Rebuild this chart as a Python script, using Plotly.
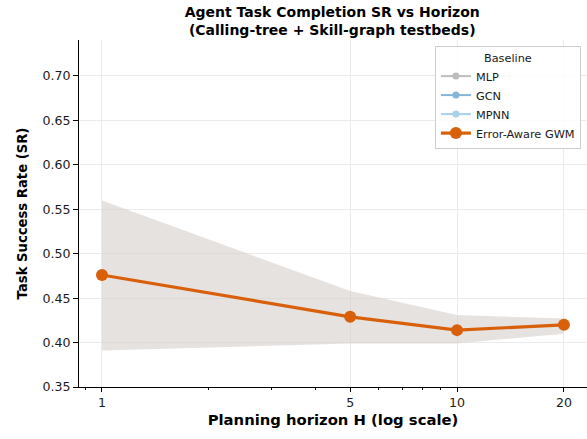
import plotly.graph_objects as go

# Planning horizons and success rates (Error-Aware GWM)
horizons = [1, 5, 10, 20]
sr_gwm = [0.476, 0.429, 0.414, 0.420]
sr_lo = [0.391, 0.399, 0.399, 0.410]
sr_hi = [0.560, 0.458, 0.431, 0.427]

baselines = ["MLP", "GCN", "MPNN"]
baseline_colors = ["#bdbdbd", "#86b5da", "#a9d0ec"]

y_ticks = [0.35, 0.40, 0.45, 0.50, 0.55, 0.60, 0.65, 0.70]
x_ticks = [1, 5, 10, 20]
x_minor = [0.9, 2, 3, 4, 6, 7, 8, 9]

FONT = "DejaVu Sans"
GWM = "#d9600b"

fig = go.Figure()

# uncertainty band
fig.add_trace(go.Scatter(x=horizons, y=sr_hi, mode="lines", line=dict(width=0),
                         showlegend=False, hoverinfo="skip"))
fig.add_trace(go.Scatter(x=horizons, y=sr_lo, mode="lines", line=dict(width=0),
                         fill="tonexty", fillcolor="rgba(213,207,202,0.6)",
                         showlegend=False, hoverinfo="skip"))

# baseline entries (legend only)
for name, col in zip(baselines, baseline_colors):
    fig.add_trace(go.Scatter(x=[None], y=[None], mode="lines+markers", name=name,
                             line=dict(color=col, width=2), marker=dict(size=7, color=col)))

fig.add_trace(go.Scatter(x=horizons, y=sr_gwm, mode="lines+markers", name="Error-Aware GWM",
                         line=dict(color=GWM, width=3.2), marker=dict(size=12, color=GWM)))

fig.update_layout(
    width=587, height=439,
    margin=dict(l=79, r=0, t=40, b=52),
    paper_bgcolor="white", plot_bgcolor="white",
    font=dict(family=FONT, size=12.6, color="#1a1a1a"),
    title=dict(text="<b>Agent Task Completion SR vs Horizon<br>(Calling-tree + Skill-graph testbeds)</b>",
               x=0.566, xanchor="center", xref="container",
               y=0.962, yanchor="middle", yref="container",
               font=dict(family=FONT, size=14, color="black")),
    legend=dict(x=0.988, xanchor="right", y=0.983, yanchor="top",
                traceorder="normal",
                bgcolor="rgba(255,255,255,0.85)", bordercolor="#cccccc", borderwidth=1,
                font=dict(size=11.3, color="#1a1a1a"),
                title=dict(text="Baseline", side="top center", font=dict(size=11.3)),
                tracegroupgap=0, itemwidth=30),
)

fig.update_xaxes(
    type="log", range=[-0.0647, 1.366],
    tickmode="array", tickvals=x_ticks, ticktext=[str(v) for v in x_ticks],
    ticks="outside", ticklen=4, tickcolor="black",
    showline=True, linecolor="black", linewidth=1,
    showgrid=True, gridcolor="#ebebeb", zeroline=False,
    minor=dict(tickmode="array", tickvals=x_minor, ticks="outside", ticklen=2,
               tickcolor="black", showgrid=False),
    title=dict(text="<b>Planning horizon H (log scale)</b>", font=dict(size=14.8, color="black"),
               standoff=5),
    tickfont=dict(size=12.6, color="#1a1a1a"),
)
fig.update_yaxes(
    range=[0.35, 0.7405],
    tickmode="array", tickvals=y_ticks, ticktext=[f"{v:.2f}" for v in y_ticks],
    ticks="outside", ticklen=5, tickcolor="black",
    showline=True, linecolor="black", linewidth=1,
    showgrid=True, gridcolor="#ebebeb", zeroline=False,
    title=dict(text="<b>Task Success Rate (SR)</b>", font=dict(size=13.2, color="black"),
               standoff=11),
    tickfont=dict(size=12.6, color="#1a1a1a"),
)

fig.write_html("out.html")
